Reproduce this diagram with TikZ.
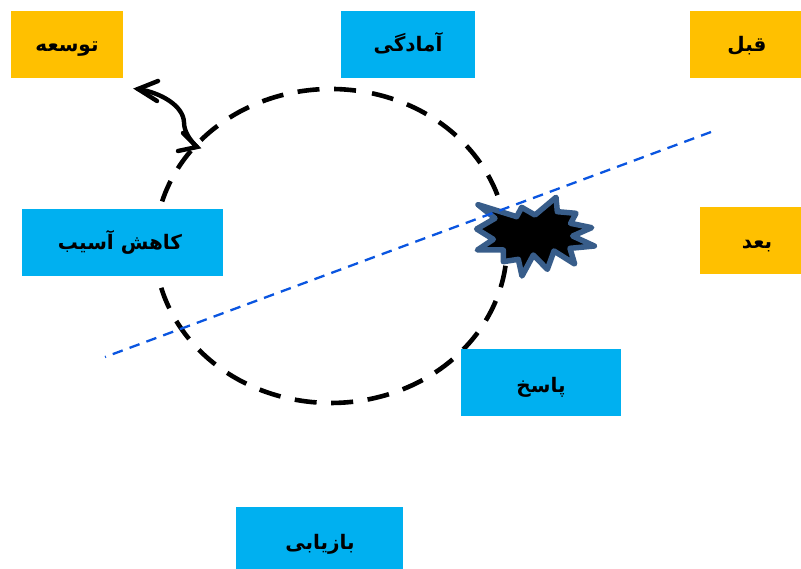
\documentclass[tikz,border=0pt]{standalone}
\usepackage{fontspec}
\newfontfamily\arabicfont[Script=Arabic]{DejaVu Sans}
\TeXXeTstate=1
\definecolor{bluebox}{HTML}{00B0F0}
\definecolor{yelbox}{HTML}{FFC000}
\definecolor{dashblue}{HTML}{0A55E0}
\definecolor{burst}{HTML}{385D8A}
\tikzset{x=1pt,y=-1pt,
 lab/.style={font=\arabicfont\bfseries\fontsize{20}{24}\selectfont,text=black,inner sep=0pt,anchor=base},
 bx/.style={fill=bluebox,draw=none},
 yx/.style={fill=yelbox,draw=none},
 ringdash/.style={line width=4.6pt,dash pattern=on 22pt off 14.6pt},
 arw/.style={line width=4.4pt,line cap=round,line join=miter}}
\begin{document}
\begin{tikzpicture}
\useasboundingbox (0,0) rectangle (801,569);
\draw[ringdash] (356,90.6) arc[start angle=81.8,end angle=360,x radius=176pt,y radius=157pt];
\draw[ringdash] (372,93.3) arc[start angle=76.5,end angle=0,x radius=176pt,y radius=157pt];
\begin{scope}[shift={(450,170)},scale=1/3]
\filldraw[fill=black,draw=burst,line width=5.5pt,line join=round]
 (84,104)--(200,140)--(215,112)--(255,135)--(318,82)--(322,125)--(378,130)--(362,160)--(425,173)--(368,198)--(433,228)--(360,235)--(374,282)--(312,243)--(292,298)--(250,255)--(216,318)--(205,268)--(160,275)--(160,240)--(82,240)--(130,208)--(80,177)--(135,145)--cycle;
\end{scope}
\coordinate (dl) at (105,357);\coordinate (dr) at (711,132);
\draw[dashblue,line width=2.3pt,dash pattern=on 10.6pt off 7.33pt] (dr) -- (dl);
\fill[yx] (11,11) rectangle (123,78);
\fill[bx] (341,11) rectangle (475,78);
\fill[yx] (690,11) rectangle (801,78);
\fill[yx] (700,207) rectangle (801,274);
\fill[bx] (22,209) rectangle (223,276);
\fill[bx] (461,349) rectangle (621,416);
\fill[bx] (236,507) rectangle (403,569);
\node[lab] (a) at (67,52) {\beginR توسعه\endR};
\node[lab] (b) at (408,52) {\beginR آمادگی\endR};
\node[lab] (c) at (747,52) {\beginR قبل\endR};
\node[lab] (d) at (757,249) {\beginR بعد\endR};
\node[lab] (e) at (120,250) {\beginR کاهش آسیب\endR};
\node[lab] (f) at (541,392) {\beginR پاسخ\endR};
\node[lab] (g) at (320,549) {\beginR بازیابی\endR};
\coordinate (h1) at (138,89);\coordinate (h2) at (197,147);
\draw[arw] (h1) .. controls (162,93) and (183,106) .. (184,122) .. controls (184,132) and (190,140) .. (h2);
\draw[arw] (158,81) -- (h1) -- (157,101);
\draw[arw] (178,151) -- (h2) -- (183,133);
\end{tikzpicture}
\end{document}
